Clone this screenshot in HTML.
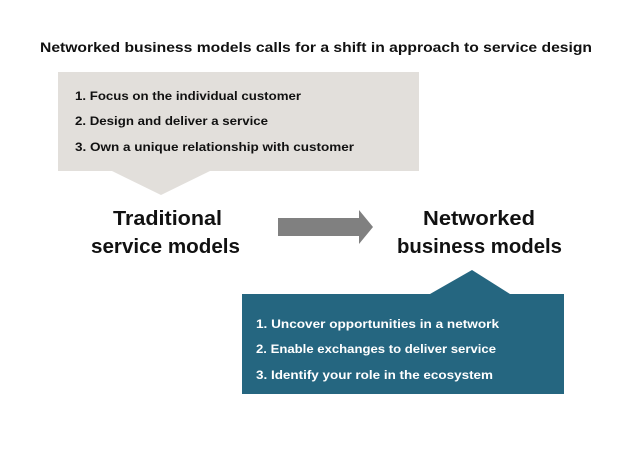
<!DOCTYPE html>
<html><head><meta charset="utf-8"><style>
html,body{margin:0;padding:0;background:#fff;}
svg{display:block;}
text{font-family:"Liberation Sans",sans-serif;font-weight:bold;}
</style></head><body>
<svg width="638" height="453" viewBox="0 0 638 453" xmlns="http://www.w3.org/2000/svg">
<rect width="638" height="453" fill="#fff"/>
<text x="40" y="52" font-size="14" fill="#111" textLength="552" lengthAdjust="spacingAndGlyphs">Networked business models calls for a shift in approach to service design</text>
<polygon points="58,72 419,72 419,171 210,171 161,195 112,171 58,171" fill="#e2dfdb"/>
<text x="75" y="100" font-size="12" fill="#111" textLength="226" lengthAdjust="spacingAndGlyphs">1.  Focus on the individual customer</text>
<text x="75" y="125" font-size="12" fill="#111" textLength="193" lengthAdjust="spacingAndGlyphs">2.  Design and deliver a service</text>
<text x="75" y="151" font-size="12" fill="#111" textLength="279" lengthAdjust="spacingAndGlyphs">3.  Own a unique relationship with customer</text>
<text x="113" y="225" font-size="20" fill="#111" textLength="109" lengthAdjust="spacingAndGlyphs">Traditional</text>
<text x="91" y="253" font-size="20" fill="#111" textLength="149" lengthAdjust="spacingAndGlyphs">service models</text>
<text x="423" y="225" font-size="20" fill="#111" textLength="112" lengthAdjust="spacingAndGlyphs">Networked</text>
<text x="397" y="253" font-size="20" fill="#111" textLength="165" lengthAdjust="spacingAndGlyphs">business models</text>
<polygon points="278,218 359,218 359,210 373,227 359,244 359,236 278,236" fill="#808080"/>
<polygon points="242,294 430,294 472,270 510,294 564,294 564,394 242,394" fill="#256680"/>
<text x="256" y="328" font-size="12" fill="#fff" textLength="243" lengthAdjust="spacingAndGlyphs">1.  Uncover opportunities in a network</text>
<text x="256" y="353" font-size="12" fill="#fff" textLength="240" lengthAdjust="spacingAndGlyphs">2.  Enable exchanges to deliver service</text>
<text x="256" y="379" font-size="12" fill="#fff" textLength="237" lengthAdjust="spacingAndGlyphs">3.  Identify your role in the ecosystem</text>
</svg>
</body></html>
